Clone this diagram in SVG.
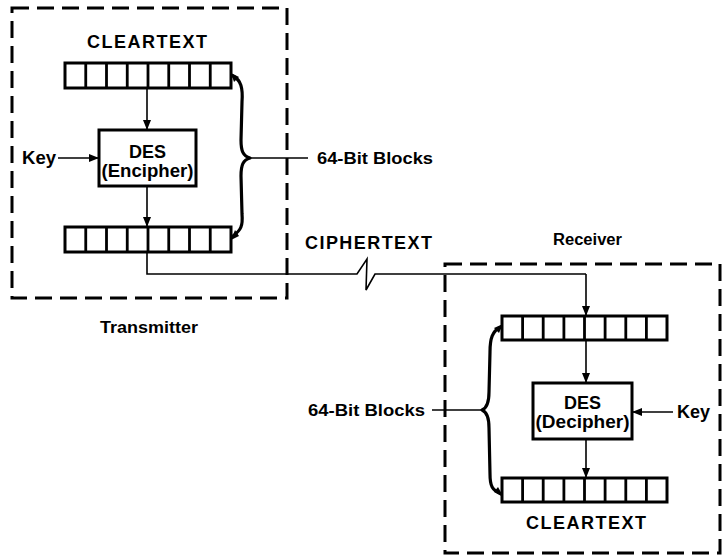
<svg xmlns="http://www.w3.org/2000/svg" width="728" height="557" viewBox="0 0 728 557">
<defs>
<style>
.bg{fill:#fff}
.dash{fill:none;stroke:#000;stroke-width:3;stroke-dasharray:17 8}
.reg{fill:#fff;stroke:#000;stroke-width:3}
.cell{stroke:#000;stroke-width:2.8}
.box{fill:#fff;stroke:#000;stroke-width:3}
.ln{fill:none;stroke:#000;stroke-width:1.6}
.arr{fill:none;stroke:#000;stroke-width:1.6;marker-end:url(#ah)}
.brace{fill:none;stroke:#000;stroke-width:3.2;stroke-linecap:round;stroke-linejoin:round}
.t{font-family:"Liberation Sans",Arial,sans-serif;font-weight:bold;fill:#000}
</style>
<marker id="ah" viewBox="0 0 10 10" refX="10" refY="5" markerWidth="10" markerHeight="10" markerUnits="userSpaceOnUse" orient="auto">
<path d="M0,1 L10,5 L0,9 Z" fill="#000"/>
</marker>
</defs>
<rect class="bg" width="728" height="557"/>

<g id="transmitter">
<rect class="dash" x="12" y="8" width="275" height="290"/>
<text class="t" x="100" y="333" font-size="16" textLength="98" lengthAdjust="spacingAndGlyphs">Transmitter</text>
</g>

<g id="receiver">
<rect class="dash" x="445" y="264" width="275" height="289"/>
<text class="t" x="553" y="245" font-size="16" textLength="69" lengthAdjust="spacingAndGlyphs">Receiver</text>
</g>

<g id="cleartext-top">
<text class="t" x="147" y="48" font-size="18" text-anchor="middle" textLength="120" lengthAdjust="spacing">CLEARTEXT</text>
</g>

<g id="register-tx-in">
<rect class="reg" x="65" y="63" width="166" height="25"/>
<path class="cell" d="M85.75,63V88M106.5,63V88M127.25,63V88M148,63V88M168.75,63V88M189.5,63V88M210.25,63V88"/>
</g>

<g id="des-encipher">
<rect class="box" x="99" y="130" width="97" height="56"/>
<text class="t" x="147.5" y="158" font-size="18" text-anchor="middle">DES</text>
<text class="t" x="147.5" y="177" font-size="18" text-anchor="middle" textLength="92" lengthAdjust="spacingAndGlyphs">(Encipher)</text>
</g>

<g id="key-tx">
<text class="t" x="22" y="164" font-size="18" textLength="34" lengthAdjust="spacingAndGlyphs">Key</text>
</g>

<g id="register-tx-out">
<rect class="reg" x="65" y="227" width="166" height="25"/>
<path class="cell" d="M85.75,227V252M106.5,227V252M127.25,227V252M148,227V252M168.75,227V252M189.5,227V252M210.25,227V252"/>
</g>

<g id="blocks-tx">
<text class="t" x="317" y="164" font-size="17" textLength="116" lengthAdjust="spacingAndGlyphs">64-Bit Blocks</text>
</g>

<g id="ciphertext">
<text class="t" x="305" y="249" font-size="18" textLength="127" lengthAdjust="spacing">CIPHERTEXT</text>
</g>

<g id="register-rx-in">
<rect class="reg" x="502" y="316" width="165" height="24"/>
<path class="cell" d="M522.6,316V340M543.2,316V340M563.9,316V340M584.5,316V340M605.1,316V340M625.8,316V340M646.4,316V340"/>
</g>

<g id="des-decipher">
<rect class="box" x="533" y="383" width="99" height="56"/>
<text class="t" x="582.5" y="409" font-size="18" text-anchor="middle">DES</text>
<text class="t" x="582.5" y="428" font-size="18" text-anchor="middle" textLength="94" lengthAdjust="spacingAndGlyphs">(Decipher)</text>
</g>

<g id="key-rx">
<text class="t" x="677" y="418" font-size="18" textLength="33" lengthAdjust="spacingAndGlyphs">Key</text>
</g>

<g id="register-rx-out">
<rect class="reg" x="502" y="478" width="165" height="24"/>
<path class="cell" d="M522.6,478V502M543.2,478V502M563.9,478V502M584.5,478V502M605.1,478V502M625.8,478V502M646.4,478V502"/>
</g>

<g id="cleartext-bottom">
<text class="t" x="586" y="529" font-size="18" text-anchor="middle" textLength="120" lengthAdjust="spacing">CLEARTEXT</text>
</g>

<g id="blocks-rx">
<text class="t" x="308" y="416" font-size="17" textLength="117" lengthAdjust="spacingAndGlyphs">64-Bit Blocks</text>
</g>

<g id="connectors">
<path class="arr" d="M147,88 V130"/>
<path class="arr" d="M58,158 H99"/>
<path class="arr" d="M147,186 V227"/>
<path class="ln" d="M147,252 V274 H357 L367,259 L366,290 L375,274 H586"/>
<path class="arr" d="M586,274 V316"/>
<path class="arr" d="M586,340 V383"/>
<path class="arr" d="M673,412 H632"/>
<path class="arr" d="M586,439 V478"/>
<path class="brace" d="M233,76 C241,80 243,88 242,102 L241,140 C241,151 243,156 250,158 C243,160 241,165 241,176 L242,214 C243,226 241,230 233,236"/>
<path d="M231,73 L239,77 L234,82 Z" fill="#000"/>
<path d="M231,240 L235,230 L239,236 Z" fill="#000"/>
<path class="ln" d="M250,158 H308"/>
<path class="brace" d="M501,327 C492,331 490,339 490,352 L489,392 C489,403 487,408 482,410 C487,412 489,417 489,428 L490,474 C490,486 492,490 501,494"/>
<path d="M503,324 L494,328 L499,333 Z" fill="#000"/>
<path d="M503,496 L494,492 L498,487 Z" fill="#000"/>
<path class="ln" d="M432,410 H482"/>
</g>
</svg>
